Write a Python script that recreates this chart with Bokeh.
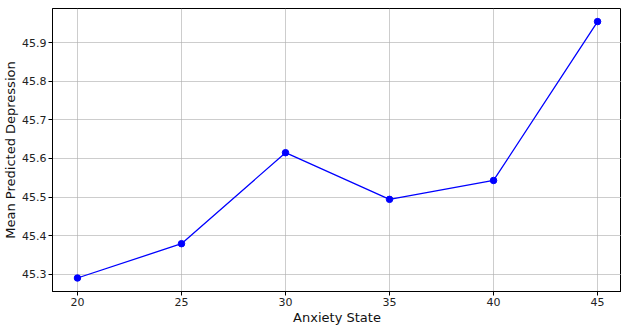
from bokeh.plotting import figure
from bokeh.models import FixedTicker, Range1d
from bokeh.embed import file_html
from bokeh.resources import INLINE

# Mean predicted depression by anxiety state
anxiety_state = [20, 25, 30, 35, 40, 45]
mean_depression = [45.290, 45.379, 45.615, 45.494, 45.543, 45.955]
x_ticks = [20, 25, 30, 35, 40, 45]
y_ticks = [45.3, 45.4, 45.5, 45.6, 45.7, 45.8, 45.9]

FONT = "DejaVu Sans"

p = figure(width=621, height=327, output_backend="svg", toolbar_location=None,
           x_range=Range1d(18.8, 46.15), y_range=Range1d(45.255, 45.989))
p.min_border_left = 52
p.min_border_right = 0
p.min_border_top = 8
p.min_border_bottom = 35

p.line(anxiety_state, mean_depression, line_color="blue", line_width=1.3)
p.scatter(anxiety_state, mean_depression, size=6.5, fill_color="blue", line_color="blue")

p.outline_line_color = "black"
p.outline_line_width = 1
p.background_fill_color = "white"
p.border_fill_color = "white"

for g in (p.xgrid, p.ygrid):
    g.grid_line_color = "#b0b0b0"
    g.grid_line_alpha = 0.7
    g.grid_line_width = 0.9
p.xgrid.ticker = FixedTicker(ticks=x_ticks)
p.ygrid.ticker = FixedTicker(ticks=y_ticks)

p.xaxis.ticker = FixedTicker(ticks=x_ticks)
p.yaxis.ticker = FixedTicker(ticks=y_ticks)
p.yaxis.formatter.use_scientific = False

p.xaxis.axis_label = "Anxiety State"
p.yaxis.axis_label = "Mean Predicted Depression"

for ax in (p.xaxis, p.yaxis):
    ax.axis_line_color = "black"
    ax.major_tick_line_color = "black"
    ax.major_tick_out = 4
    ax.major_tick_in = 0
    ax.minor_tick_line_color = None
    ax.major_label_text_font = FONT
    ax.major_label_text_font_size = "11px"
    ax.major_label_text_color = "#222222"
    ax.axis_label_text_font = FONT
    ax.axis_label_text_font_size = "13px"
    ax.axis_label_text_font_style = "normal"
    ax.axis_label_text_color = "#111111"
    ax.major_label_standoff = 2
    ax.axis_label_standoff = 1

with open("out.html", "w") as f:
    f.write(file_html(p, INLINE))
